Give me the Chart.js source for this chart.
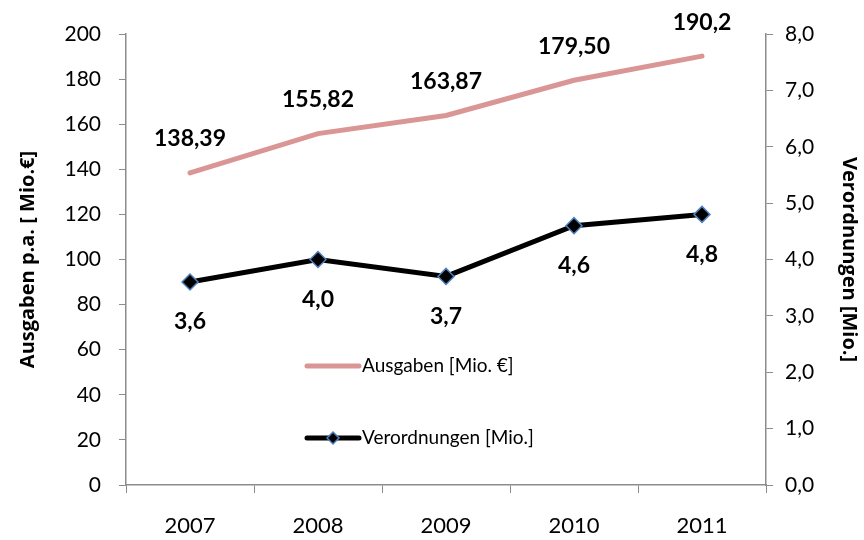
<!DOCTYPE html>
<html>
<head>
<meta charset="utf-8">
<script src="https://cdn.jsdelivr.net/npm/chart.js@4"></script>
<style>
  html, body { margin: 0; padding: 0; background: #fff; }
  #wrap { width: 864px; height: 540px; }
</style>
</head>
<body>
<div id="wrap"><canvas id="chart" width="864" height="540"></canvas></div>
<script>
// data
var years = ['2007', '2008', '2009', '2010', '2011'];
var ausgaben = [138.39, 155.82, 163.87, 179.50, 190.2];
var ausgabenLabels = ['138,39', '155,82', '163,87', '179,50', '190,2'];
var verordnungen = [3.6, 4.0, 3.7, 4.6, 4.8];
var verordnungenLabels = ['3,6', '4,0', '3,7', '4,6', '4,8'];
var leftTitle = 'Ausgaben p.a. [ Mio.€]';
var rightTitle = 'Verordnungen [Mio.]';

var FONT = 'Lato, "Open Sans", sans-serif';
var TITLE_FONT = '"Open Sans", Lato, sans-serif';
var AXIS_GREY = '#8c8c8c';

// bold value labels, above the pink line and below the black one
var valueLabels = {
    id: 'valueLabels',
    afterDatasetsDraw: function(chart) {
        var ctx = chart.ctx;
        ctx.save();
        ctx.font = 'bold 23px ' + FONT;
        ctx.fillStyle = '#000';
        ctx.textAlign = 'center';
        ctx.textBaseline = 'middle';
        var sets = [[0, ausgabenLabels, -34], [1, verordnungenLabels, 40]];
        sets.forEach(function(s) {
            chart.getDatasetMeta(s[0]).data.forEach(function(pt, i) {
                ctx.fillText(s[1][i], pt.x, pt.y + s[2]);
            });
        });
        ctx.restore();
    }
};

// bold rotated axis titles (the built-in ones came out regular weight)
var axisTitles = {
    id: 'axisTitles',
    afterDraw: function(chart) {
        var ctx = chart.ctx;
        var area = chart.chartArea;
        var cy = (area.top + area.bottom) / 2;
        ctx.save();
        ctx.font = 'bold 20px ' + TITLE_FONT;
        ctx.fillStyle = '#000';
        ctx.textAlign = 'center';
        ctx.textBaseline = 'middle';

        ctx.save();
        ctx.translate(28, cy);
        ctx.rotate(-Math.PI / 2);
        ctx.fillText(leftTitle, 0, 0);
        ctx.restore();

        ctx.save();
        ctx.translate(chart.width - 15, cy);
        ctx.rotate(Math.PI / 2);
        ctx.fillText(rightTitle, 0, 0);
        ctx.restore();

        ctx.restore();
    }
};

// legend sits inside the plot, like the original
var innerLegend = {
    id: 'innerLegend',
    afterDraw: function(chart) {
        var ctx = chart.ctx;
        var area = chart.chartArea;
        var x0 = area.left + 181;
        var rows = [area.top + 332, area.top + 404];
        ctx.save();
        ctx.font = '19px ' + FONT;
        ctx.textBaseline = 'middle';
        chart.data.datasets.forEach(function(ds, i) {
            var y = rows[i];
            ctx.strokeStyle = ds.borderColor;
            ctx.lineWidth = 5;
            ctx.lineCap = 'round';
            ctx.beginPath();
            ctx.moveTo(x0, y);
            ctx.lineTo(x0 + 52, y);
            ctx.stroke();
            if (i === 1) {
                ctx.fillStyle = ds.pointBackgroundColor;
                ctx.strokeStyle = ds.pointBorderColor;
                ctx.lineWidth = 1.5;
                ctx.beginPath();
                ctx.moveTo(x0 + 26, y - 6);
                ctx.lineTo(x0 + 32, y);
                ctx.lineTo(x0 + 26, y + 6);
                ctx.lineTo(x0 + 20, y);
                ctx.closePath();
                ctx.fill();
                ctx.stroke();
            }
            ctx.fillStyle = '#000';
            ctx.fillText(ds.label, x0 + 55, y);
        });
        ctx.restore();
    }
};

var ctx = document.getElementById('chart');
new Chart(ctx, {
    type: 'line',
    data: {
        labels: years,
        datasets: [{
            label: 'Ausgaben [Mio. €]',
            data: ausgaben,
            yAxisID: 'y',
            borderColor: '#d99694',
            borderWidth: 5,
            pointRadius: 0,
            tension: 0,
            borderCapStyle: 'round'
        }, {
            label: 'Verordnungen [Mio.]',
            data: verordnungen,
            yAxisID: 'y1',
            borderColor: '#000000',
            borderWidth: 5,
            pointStyle: 'rectRot',
            pointRadius: 8,
            pointBackgroundColor: '#000000',
            pointBorderColor: '#4f81bd',
            pointBorderWidth: 1.5,
            tension: 0
        }]
    },
    options: {
        responsive: false,
        animation: false,
        layout: { padding: { top: 34, left: 0, right: 0, bottom: 0 } },
        plugins: {
            legend: { display: false },
            tooltip: { enabled: false }
        },
        scales: {
            x: {
                offset: true,
                grid: {
                    offset: true,
                    drawOnChartArea: false,
                    drawTicks: true,
                    tickLength: 8,
                    color: AXIS_GREY
                },
                border: { color: AXIS_GREY, width: 1.5 },
                ticks: { color: '#000', font: { family: FONT, size: 22 }, padding: 20 },
                afterFit: function(scale) { scale.height = 55; }
            },
            y: {
                position: 'left',
                min: 0,
                max: 200,
                ticks: { stepSize: 20, color: '#000', font: { family: FONT, size: 21 }, padding: 18 },
                grid: { drawOnChartArea: false, tickLength: 7, color: AXIS_GREY },
                border: { color: AXIS_GREY, width: 1.5 },
                afterFit: function(scale) { scale.width = 126; }
            },
            y1: {
                position: 'right',
                min: 0,
                max: 8,
                ticks: {
                    stepSize: 1,
                    color: '#000',
                    font: { family: FONT, size: 21 },
                    padding: 12,
                    callback: function(v) { return v.toFixed(1).replace('.', ','); }
                },
                grid: { drawOnChartArea: false, tickLength: 7, color: AXIS_GREY },
                border: { color: AXIS_GREY, width: 1.5 },
                afterFit: function(scale) { scale.width = 98; }
            }
        }
    },
    plugins: [valueLabels, axisTitles, innerLegend]
});
</script>
</body>
</html>
